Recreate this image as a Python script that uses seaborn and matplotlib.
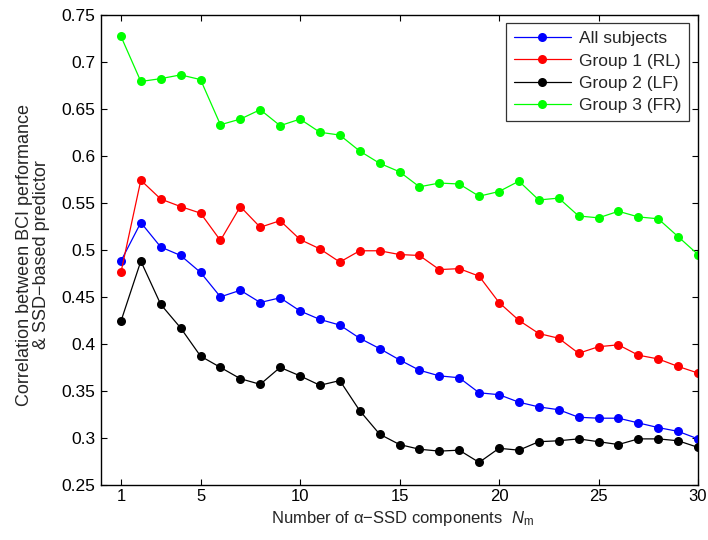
import numpy as np
import pandas as pd
import matplotlib
matplotlib.use("Agg")
import matplotlib.pyplot as plt
import seaborn as sns

# Number of alpha-SSD components used by the predictor
n_components = list(range(1, 31))

all_subjects = [0.488, 0.529, 0.503, 0.494, 0.476, 0.450, 0.457, 0.444, 0.449, 0.435,
                0.426, 0.420, 0.406, 0.395, 0.383, 0.372, 0.366, 0.364, 0.348, 0.346,
                0.338, 0.333, 0.330, 0.322, 0.321, 0.321, 0.316, 0.311, 0.307, 0.299]
group1_rl = [0.476, 0.574, 0.554, 0.546, 0.539, 0.510, 0.546, 0.524, 0.531, 0.511,
             0.501, 0.487, 0.499, 0.499, 0.495, 0.494, 0.479, 0.480, 0.472, 0.444,
             0.425, 0.411, 0.406, 0.390, 0.397, 0.399, 0.388, 0.384, 0.376, 0.369]
group2_lf = [0.424, 0.488, 0.442, 0.417, 0.387, 0.375, 0.363, 0.357, 0.375, 0.366,
             0.356, 0.361, 0.329, 0.304, 0.293, 0.288, 0.286, 0.287, 0.274, 0.289,
             0.287, 0.296, 0.297, 0.299, 0.296, 0.293, 0.299, 0.299, 0.297, 0.290]
group3_fr = [0.727, 0.679, 0.682, 0.686, 0.681, 0.633, 0.639, 0.649, 0.632, 0.639,
             0.625, 0.622, 0.605, 0.592, 0.583, 0.567, 0.571, 0.570, 0.557, 0.562,
             0.573, 0.553, 0.555, 0.536, 0.534, 0.541, 0.535, 0.533, 0.514, 0.495]

series_names = ["All subjects", "Group 1 (RL)", "Group 2 (LF)", "Group 3 (FR)"]
series_colors = ["#0000ff", "#ff0000", "#000000", "#00ff00"]
y_ticks = [0.25, 0.3, 0.35, 0.4, 0.45, 0.5, 0.55, 0.6, 0.65, 0.7, 0.75]
x_ticks = [1, 5, 10, 15, 20, 25, 30]

df = pd.DataFrame({
    "Nm": n_components * 4,
    "corr": all_subjects + group1_rl + group2_lf + group3_fr,
    "group": sum([[name] * len(n_components) for name in series_names], []),
})

sns.set_style("ticks")
plt.rcParams["font.family"] = ["Liberation Sans", "DejaVu Sans"]
plt.rcParams["mathtext.fontset"] = "custom"
plt.rcParams["mathtext.it"] = "Liberation Sans:italic"
plt.rcParams["mathtext.rm"] = "Liberation Sans"

FS = 12.5

fig = plt.figure(figsize=(7.08, 5.40), dpi=100)
ax = fig.add_axes([0.1427, 0.1019, 0.8432, 0.8709])

sns.lineplot(data=df, x="Nm", y="corr", hue="group", hue_order=series_names,
             palette=dict(zip(series_names, series_colors)), marker="o",
             markersize=6.5, markeredgewidth=0, linewidth=0.9, ax=ax, legend=False)

ax.set_xlim(0, 30)
ax.set_ylim(0.25, 0.75)
ax.set_xticks(x_ticks)
ax.set_xticklabels([str(t) for t in x_ticks])
ax.set_yticks(y_ticks)
ax.set_yticklabels([f"{t:g}" for t in y_ticks])
ax.tick_params(direction="in", length=4, width=0.8, top=True, right=True,
               labelsize=FS, colors="black")
ax.tick_params(axis="y", pad=4)
ax.tick_params(axis="x", pad=3, labelsize=12)
for sp in ax.spines.values():
    sp.set_visible(True)
    sp.set_linewidth(1.0)
    sp.set_color("black")

ax.set_xlabel("Number of \u03b1\u2212SSD components  $N_\\mathrm{m}$", fontsize=12)
ax.xaxis.set_label_coords(0.505, -0.051)
ax.set_ylabel("Correlation between BCI performance\n& SSD\u2212based predictor",
              fontsize=13, linespacing=1.0)
ax.yaxis.set_label_coords(-0.086, 0.49)

handles = [plt.Line2D([], [], color=c, marker="o", markersize=6.5,
                      markeredgewidth=0, linewidth=0.9) for c in series_colors]
leg = ax.legend(handles, series_names, loc="upper right",
                bbox_to_anchor=(0.985, 0.982), borderaxespad=0, fontsize=FS,
                frameon=True, fancybox=False, handlelength=3.3,
                labelspacing=0.42, borderpad=0.45, handletextpad=0.45)
leg.get_frame().set_edgecolor("black")
leg.get_frame().set_linewidth(0.9)

fig.savefig("out.png", dpi=100)
